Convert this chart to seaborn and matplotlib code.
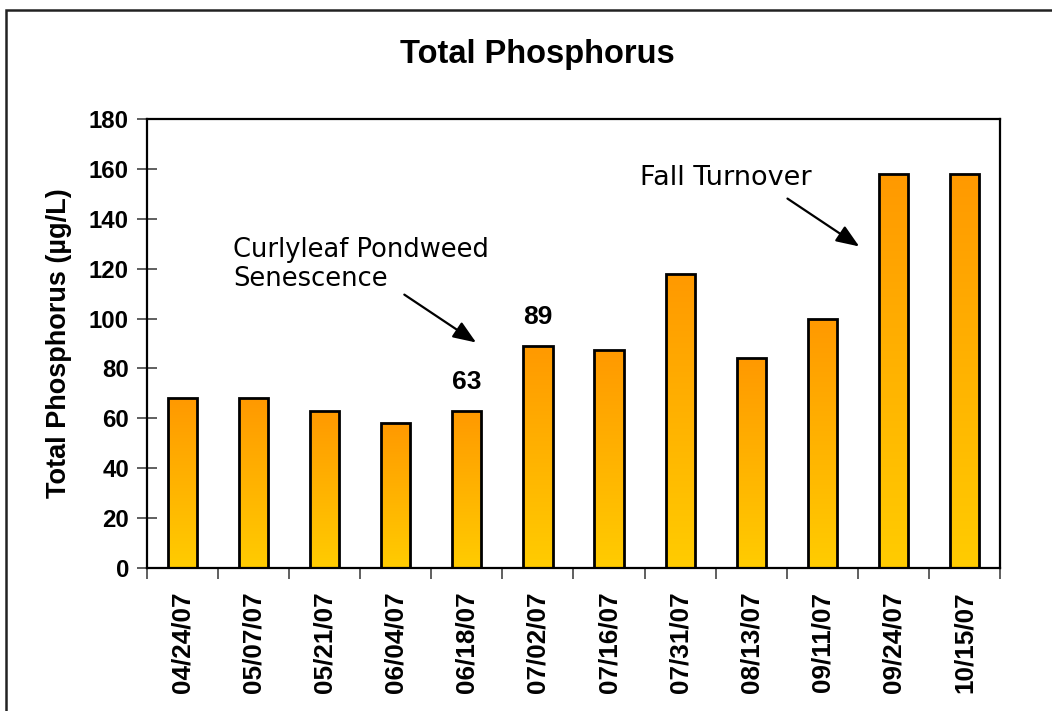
import numpy as np
import pandas as pd
import matplotlib
matplotlib.use("Agg")
import matplotlib.pyplot as plt
import seaborn as sns
from matplotlib.colors import LinearSegmentedColormap
from matplotlib.patches import Rectangle

# Data
dates = ["04/24/07", "05/07/07", "05/21/07", "06/04/07", "06/18/07", "07/02/07",
         "07/16/07", "07/31/07", "08/13/07", "09/11/07", "09/24/07", "10/15/07"]
phosphorus = [68, 68, 63, 58, 63, 89, 87.5, 118, 84, 100, 158, 158]
labelled = {4: "63", 5: "89"}

df = pd.DataFrame({"date": dates, "tp": phosphorus})

sns.set_style("white")
plt.rcParams["font.family"] = ["Liberation Sans", "DejaVu Sans"]
plt.rcParams["text.color"] = "black"
plt.rcParams["axes.labelcolor"] = "black"

fig = plt.figure(figsize=(10.52, 7.11), dpi=100)
ax = fig.add_axes([147 / 1052, 1 - 568 / 711, (1000 - 147) / 1052, (568 - 119) / 711])

sns.barplot(data=df, x="date", y="tp", ax=ax, width=0.41, color="white",
            edgecolor="black", linewidth=2, saturation=1)

# vertical orange -> yellow gradient inside every bar
cmap = LinearSegmentedColormap.from_list("tp", ["#FFCC00", "#FF9900"])
grad = np.linspace(0, 1, 256).reshape(-1, 1)
for p in ax.patches:
    x0, y0 = p.get_x(), p.get_y()
    w, h = p.get_width(), p.get_height()
    im = ax.imshow(grad, cmap=cmap, origin="lower", aspect="auto",
                   extent=[x0, x0 + w, y0, y0 + h], zorder=1.5)
    im.set_clip_path(p)
    p.set_facecolor("none")
    p.set_zorder(2)

ax.set_xlim(-0.5, len(dates) - 0.5)
ax.set_ylim(0, 180)
ax.set_yticks(range(0, 181, 20))
# tick marks on the y axis drawn through the minor locator (same positions)
ax.set_yticks(range(0, 181, 20), minor=True)
ax.set_xticks(np.arange(-0.5, len(dates), 1.0), minor=True)

for s in ax.spines.values():
    s.set_color("black")
    s.set_linewidth(1.6)

ax.tick_params(axis="y", which="major", left=True, direction="inout", length=14,
               width=1.2, color="#444444", labelsize=17.3, pad=6,
               labelcolor="black")
ax.tick_params(axis="y", which="minor", left=True, direction="inout", length=14,
               width=1.2, color="#444444")
ax.tick_params(axis="x", which="major", bottom=True, length=0, labelsize=18.8,
               pad=17, labelrotation=90, labelcolor="black")
ax.tick_params(axis="x", which="minor", bottom=True, direction="out", length=8,
               width=1.2, color="#444444")
for lab in ax.get_xticklabels() + ax.get_yticklabels():
    lab.set_fontweight("bold")

ax.set_xlabel("")
ax.set_ylabel("Total Phosphorus (µg/L)", fontsize=19.5, fontweight="bold",
              labelpad=12, color="black")

fig.text(537 / 1052, 1 - 55 / 711, "Total Phosphorus", ha="center", va="center",
         fontsize=23.5, fontweight="bold", color="black")

# value labels over two bars
for i, txt in labelled.items():
    ax.annotate(txt, (i, phosphorus[i]), xytext=(0, 21), textcoords="offset points",
                ha="center", va="center", fontsize=19, fontweight="bold",
                color="black")

# event notes
arrow = dict(arrowstyle="-|>,head_length=1.4,head_width=0.55",
             color="black", lw=1.6, shrinkA=0, shrinkB=0)
ax.text(0.71, 132.5, "Curlyleaf Pondweed\nSenescence", ha="left", va="top",
        fontsize=18.5, family="DejaVu Sans", linespacing=1.15, color="black")
ax.annotate("", xy=(4.13, 90.4), xytext=(3.12, 109.6), arrowprops=arrow)
ax.text(6.44, 156.4, "Fall Turnover", ha="left", va="center",
        fontsize=19.5, family="DejaVu Sans", color="black")
ax.annotate("", xy=(9.52, 128.9), xytext=(8.51, 148.1), arrowprops=arrow)

# outer chart-area border
fig.patches.append(Rectangle((6 / 1052, -0.1), 1.2, 1.1 - 10 / 711,
                             transform=fig.transFigure, fill=False,
                             edgecolor="#222222", linewidth=1.8))

fig.savefig("out.png", dpi=100)
